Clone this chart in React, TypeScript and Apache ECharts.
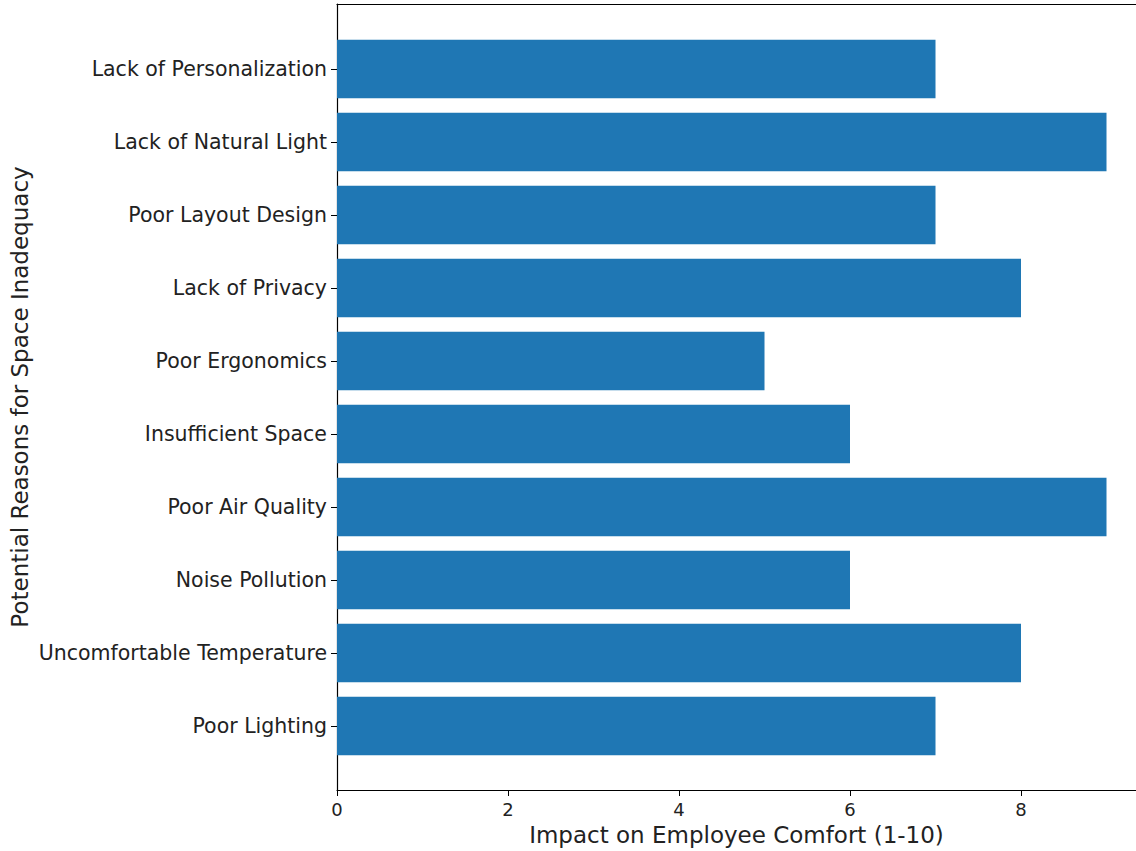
import React, { useEffect, useRef } from "react";
import * as echarts from "echarts";

const categories = [
  "Poor Lighting",
  "Uncomfortable Temperature",
  "Noise Pollution",
  "Poor Air Quality",
  "Insufficient Space",
  "Poor Ergonomics",
  "Lack of Privacy",
  "Poor Layout Design",
  "Lack of Natural Light",
  "Lack of Personalization",
];
const impactValues = [7, 8, 6, 9, 6, 5, 8, 7, 9, 7];
const xTicks = [0, 2, 4, 6, 8];

const xTitle = "Impact on Employee Comfort (1-10)";
const yTitle = "Potential Reasons for Space Inadequacy";

const FONT = "DejaVu Sans";
const TXT = "#222";

export default function App() {
  const ref = useRef<HTMLDivElement>(null);
  useEffect(() => {
    if (!ref.current) return;
    const chart = echarts.init(ref.current, null, { renderer: "svg" });
    const frameLeft = 337;
    const frameWidth = 799;
    const xMax = 9.345;
    chart.setOption({
      animation: false,
      backgroundColor: "#fff",
      textStyle: { fontFamily: FONT },
      grid: [
        { left: frameLeft, top: 4, width: frameWidth, height: 789 },
        { left: frameLeft, top: 32.5, width: frameWidth, height: 730 },
      ],
      xAxis: [
        {
          gridIndex: 0,
          type: "value",
          min: 0,
          max: xMax,
          interval: 2,
          axisLine: { show: true, lineStyle: { color: "#000", width: 1.2 } },
          axisTick: { show: true, length: 6, lineStyle: { color: "#000" } },
          axisLabel: {
            show: true,
            color: TXT,
            fontFamily: FONT,
            fontSize: 18,
            margin: 10,
            showMaxLabel: false,
            formatter: (v: number) => (xTicks.includes(v) ? String(v) : ""),
          },
          splitLine: { show: false },
          name: xTitle,
          nameLocation: "middle",
          nameGap: 33,
          nameTextStyle: { color: TXT, fontFamily: FONT, fontSize: 23 },
        },
        {
          gridIndex: 0,
          type: "value",
          position: "top",
          min: 0,
          max: xMax,
          axisLine: { show: true, lineStyle: { color: "#000", width: 1.2 } },
          axisTick: { show: false },
          axisLabel: { show: false },
          splitLine: { show: false },
        },
        {
          gridIndex: 1,
          type: "value",
          min: 0,
          max: xMax,
          show: false,
        },
      ],
      yAxis: [
        {
          gridIndex: 0,
          type: "value",
          min: 0,
          max: 1,
          axisLine: { show: true, lineStyle: { color: "#000", width: 1.2 } },
          axisTick: { show: false },
          axisLabel: { show: false },
          splitLine: { show: false },
          name: yTitle,
          nameLocation: "middle",
          nameRotate: 90,
          nameGap: 306,
          nameTextStyle: { color: TXT, fontFamily: FONT, fontSize: 23 },
        },
        {
          gridIndex: 1,
          type: "category",
          data: categories,
          axisLine: { show: false },
          axisTick: {
            show: true,
            alignWithLabel: true,
            length: 6,
            lineStyle: { color: "#000" },
          },
          axisLabel: {
            color: TXT,
            fontFamily: FONT,
            fontSize: 20.5,
            margin: 10,
          },
          splitLine: { show: false },
        },
      ],
      series: [
        {
          type: "bar",
          xAxisIndex: 2,
          yAxisIndex: 1,
          data: impactValues,
          barWidth: "80%",
          itemStyle: { color: "#1f77b4" },
        },
      ],
    });
    return () => chart.dispose();
  }, []);
  return (
    <div
      ref={ref}
      style={{ position: "fixed", left: 0, top: 0, width: 1136, height: 851 }}
    />
  );
}
